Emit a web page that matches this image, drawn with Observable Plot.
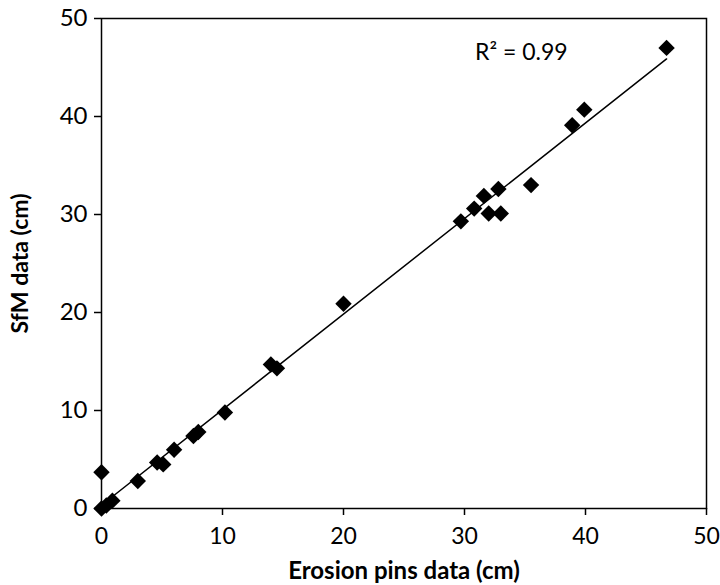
<!DOCTYPE html>
<html><head><meta charset="utf-8">
<script src="https://cdn.jsdelivr.net/npm/d3@7"></script>
<script src="https://cdn.jsdelivr.net/npm/@observablehq/plot@0.6"></script>
<style>body{margin:0;background:#fff}</style>
</head><body><div id="chart"></div>
<script>
const erosionPins = [0, 0, 0.4, 0.9, 3.0, 4.6, 5.1, 6.0, 7.6, 8.0, 10.2, 14.0, 14.5, 20.0, 29.7, 30.8, 31.6, 32.0, 32.8, 33.0, 35.5, 38.9, 39.9, 46.7];
const sfmData     = [3.7, 0, 0.3, 0.8, 2.8, 4.7, 4.5, 6.0, 7.4, 7.8, 9.8, 14.7, 14.3, 20.9, 29.3, 30.6, 31.9, 30.1, 32.6, 30.1, 33.0, 39.1, 40.7, 47.0];
const xTicks = [0, 10, 20, 30, 40, 50];
const yTicks = [0, 10, 20, 30, 40, 50];
const rSquaredLabel = "R\u00b2 = 0.99";
const xTitle = "Erosion pins data (cm)";
const yTitle = "SfM data (cm)";

const data = erosionPins.map((x, i) => ({x, y: sfmData[i]}));

const chart = Plot.plot({
  width: 720, height: 585,
  marginLeft: 101, marginRight: 14, marginTop: 18, marginBottom: 77,
  style: {fontFamily: "Lato, 'Open Sans', sans-serif", fontSize: "23px", color: "#000", background: "#fff"},
  x: {domain: [0, 50]},
  y: {domain: [0, 50]},
  marks: [
    Plot.frame({stroke: "#000", strokeWidth: 1.5}),
    Plot.axisX({ticks: xTicks, tickSize: 7, tickPadding: 12, strokeWidth: 1.5, fontSize: 23, label: null}),
    Plot.axisY({ticks: yTicks, tickSize: 7, tickPadding: 7, strokeWidth: 1.5, fontSize: 24, label: null}),
    Plot.axisX({ticks: [], label: xTitle, labelAnchor: "center", labelArrow: "none", labelOffset: 70, fontSize: 24, fontWeight: "bold"}),
    Plot.axisY({ticks: [], label: yTitle, labelAnchor: "center", labelArrow: "none", labelOffset: 90, fontSize: 23, fontWeight: "bold"}),
    Plot.linearRegressionY(data, {x: "x", y: "y", ci: 0, stroke: "#000", strokeWidth: 1.5}),
    Plot.dot(data, {x: "x", y: "y", symbol: "diamond2", r: 7.4, fill: "#000", stroke: "none"}),
    Plot.text([rSquaredLabel], {x: 34.7, y: 46.5, text: d => d, fontSize: 23, fill: "#000"})
  ]
});
document.getElementById("chart").appendChild(chart);
</script>
</body></html>
